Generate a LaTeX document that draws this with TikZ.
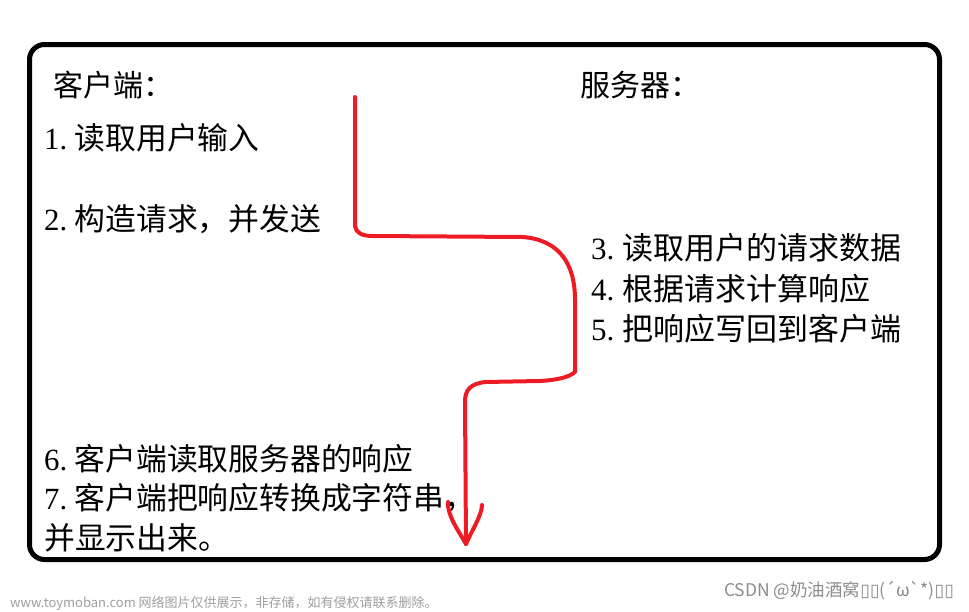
\documentclass[tikz,border=0pt]{standalone}
\usepackage{fontspec}
\setmainfont{Liberation Serif}
\newfontfamily\cjk{Noto Sans CJK SC}
\newfontfamily\symfont{DejaVu Sans}
\definecolor{paintred}{RGB}{237,28,36}
\newcommand{\nr}[2][1.02em]{\makebox[#1][l]{\rmfamily #2.}}

\begin{document}
\begin{tikzpicture}[x=1pt,y=-1pt,
    headtext/.style={anchor=west,inner sep=0pt,font=\cjk\fontsize{30}{30}\selectfont},
    lefttext/.style={anchor=west,inner sep=0pt,font=\cjk\fontsize{30.8}{30.8}\selectfont},
    righttext/.style={anchor=west,inner sep=0pt,font=\cjk\fontsize{31}{31}\selectfont},
    redline/.style={paintred,line width=4pt,line cap=round,line join=round},
    watermark/.style={anchor=west,inner sep=0pt,text=black!38}]
    \useasboundingbox (0,0) rectangle (969,611);
    \draw[line width=5pt,rounded corners=15pt] (29.5,44.5) rectangle (939.5,559.5);
    % headings
    \node[headtext] (client) at (53,85) {客户端：};
    \node[headtext] (server) at (580,85) {服务器：};
    % client side
    \node[lefttext] (s1) at (44,138) {\nr[0.99em]{1}读取用户输入};
    \node[lefttext] (s2) at (44,219) {\nr[0.99em]{2}构造请求，并发送};
    % server side
    \node[righttext] (s3) at (591,248) {\nr{3}读取用户的请求数据};
    \node[righttext] (s4) at (591,289) {\nr{4}根据请求计算响应};
    \node[righttext] (s5) at (591,329) {\nr{5}把响应写回到客户端};
    % back on the client
    \node[lefttext] (s6) at (44,459) {\nr[0.99em]{6}客户端读取服务器的响应};
    \node[lefttext] (s7) at (44,498) {\nr[0.99em]{7}客户端把响应转换成字符串，};
    \node[lefttext] (s7b) at (44,538) {并显示出来。};
    % hand drawn flow
    \coordinate (send) at (355,97);
    \coordinate (tip) at (466,544);
    \draw[redline] (send) -- (355,226) .. controls (356,233) and (362,236) .. (373,236)
        -- (523,237) .. controls (558,240) and (575,262) .. (575,300)
        -- (575,372) .. controls (568,378) and (555,380) .. (540,381)
        -- (485,382) .. controls (470,384) and (465,390) .. (465,402) -- (tip);
    \draw[redline] (tip) .. controls (458,530) and (447,515) .. (448,502);
    \draw[redline] (tip) .. controls (472,530) and (482,515) .. (482,505);
    % watermarks
    \node[watermark,font=\cjk\fontsize{13}{13}\selectfont] (mark) at (10,603)
        {www.toymoban.com 网络图片仅供展示，非存储，如有侵权请联系删除。};
    \node[watermark,text=black!45,font=\cjk\fontsize{17.5}{17.5}\selectfont] (csdn) at (724,591)
        {CSDN @奶油酒窝{\symfont ▯▯}(´ω`*){\symfont ▯▯}};
\end{tikzpicture}
\end{document}
